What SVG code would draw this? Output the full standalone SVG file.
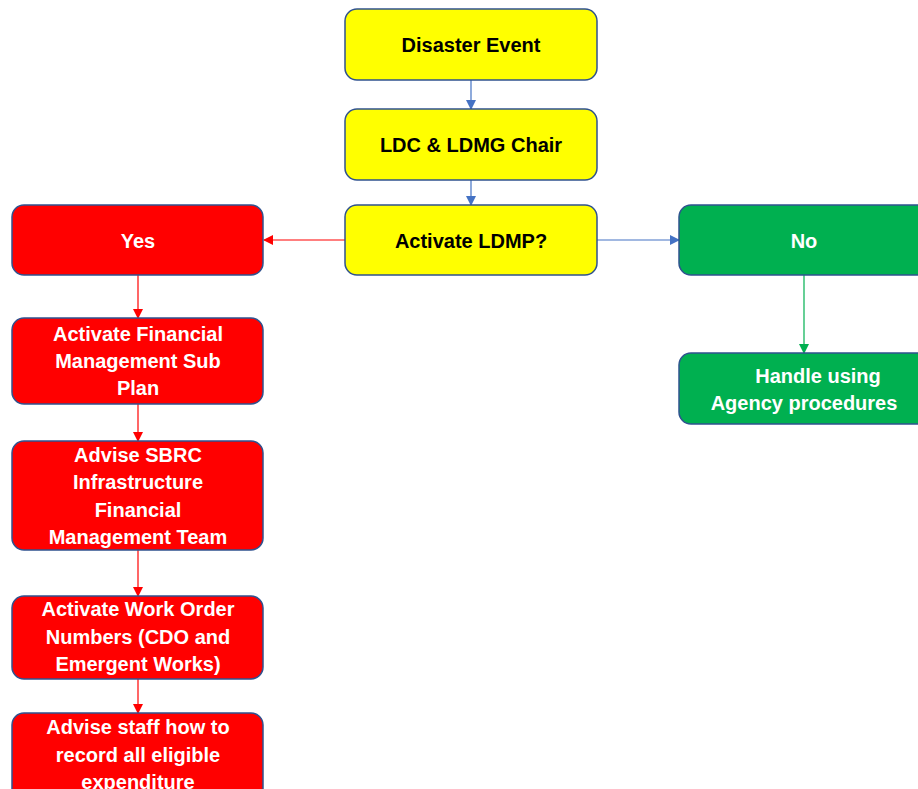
<svg xmlns="http://www.w3.org/2000/svg" width="918" height="789" viewBox="0 0 918 789">
<style>
.box{stroke:#2F528F;stroke-width:1.5}
.y{fill:#FFFF00}.r{fill:#FF0000}.g{fill:#00B050}
text{font-family:"Liberation Sans",Arial,sans-serif;font-weight:bold;font-size:20px;text-anchor:middle}
.dk{fill:#000}.wt{fill:#fff}
.cb{stroke:#4472C4;stroke-width:1.2;fill:none}
.cr{stroke:#FF0000;stroke-width:1.2;fill:none}
.cg{stroke:#00B050;stroke-width:1.2;fill:none}
</style>
<defs>
<marker id="ab" markerWidth="10" markerHeight="10" refX="9" refY="5" orient="auto" markerUnits="userSpaceOnUse"><path d="M0,0L10,5L0,10z" fill="#4472C4"/></marker>
<marker id="ar" markerWidth="10" markerHeight="10" refX="9" refY="5" orient="auto" markerUnits="userSpaceOnUse"><path d="M0,0L10,5L0,10z" fill="#FF0000"/></marker>
<marker id="ag" markerWidth="10" markerHeight="10" refX="9" refY="5" orient="auto" markerUnits="userSpaceOnUse"><path d="M0,0L10,5L0,10z" fill="#00B050"/></marker>
</defs>
<rect width="918" height="789" fill="#fff"/>
<g id="connectors">
<line class="cb" x1="471" y1="80" x2="471" y2="109" marker-end="url(#ab)"/>
<line class="cb" x1="471" y1="180" x2="471" y2="205" marker-end="url(#ab)"/>
<line class="cr" x1="345" y1="240" x2="264" y2="240" marker-end="url(#ar)"/>
<line class="cb" x1="597" y1="240" x2="679" y2="240" marker-end="url(#ab)"/>
<line class="cg" x1="804" y1="275" x2="804" y2="353" marker-end="url(#ag)"/>
<line class="cr" x1="138" y1="275" x2="138" y2="318" marker-end="url(#ar)"/>
<line class="cr" x1="138" y1="404" x2="138" y2="441" marker-end="url(#ar)"/>
<line class="cr" x1="138" y1="550" x2="138" y2="596" marker-end="url(#ar)"/>
<line class="cr" x1="138" y1="679" x2="138" y2="713" marker-end="url(#ar)"/>
</g>
<g id="disaster"><rect class="box y" x="345" y="9" width="252" height="71" rx="12"/><text class="dk" x="471" y="52">Disaster Event</text></g>
<g id="ldc"><rect class="box y" x="345" y="109" width="252" height="71" rx="12"/><text class="dk" x="471" y="152">LDC &amp; LDMG Chair</text></g>
<g id="activate"><rect class="box y" x="345" y="205" width="252" height="70" rx="12"/><text class="dk" x="471" y="248">Activate LDMP?</text></g>
<g id="yes"><rect class="box r" x="12" y="205" width="251" height="70" rx="12"/><text class="wt" x="138" y="248">Yes</text></g>
<g id="no"><rect class="box g" x="679" y="205" width="251" height="70" rx="12"/><text class="wt" x="804" y="248">No</text></g>
<g id="handle"><rect class="box g" x="679" y="353" width="251" height="71" rx="12"/><text class="wt"><tspan x="818" y="383">Handle using</tspan><tspan x="804" y="410">Agency procedures</tspan></text></g>
<g id="finplan"><rect class="box r" x="12" y="318" width="251" height="86" rx="12"/><text class="wt"><tspan x="138" y="341">Activate Financial</tspan><tspan x="138" y="368">Management Sub</tspan><tspan x="138" y="395">Plan</tspan></text></g>
<g id="sbrc"><rect class="box r" x="12" y="441" width="251" height="109" rx="12"/><text class="wt"><tspan x="138" y="462">Advise SBRC</tspan><tspan x="138" y="489">Infrastructure</tspan><tspan x="138" y="517">Financial</tspan><tspan x="138" y="544">Management Team</tspan></text></g>
<g id="workorder"><rect class="box r" x="12" y="596" width="251" height="83" rx="12"/><text class="wt"><tspan x="138" y="616">Activate Work Order</tspan><tspan x="138" y="644">Numbers (CDO and</tspan><tspan x="138" y="671">Emergent Works)</tspan></text></g>
<g id="staff"><rect class="box r" x="12" y="713" width="251" height="90" rx="12"/><text class="wt"><tspan x="138" y="734">Advise staff how to</tspan><tspan x="138" y="762">record all eligible</tspan><tspan x="138" y="789">expenditure</tspan></text></g>
</svg>
